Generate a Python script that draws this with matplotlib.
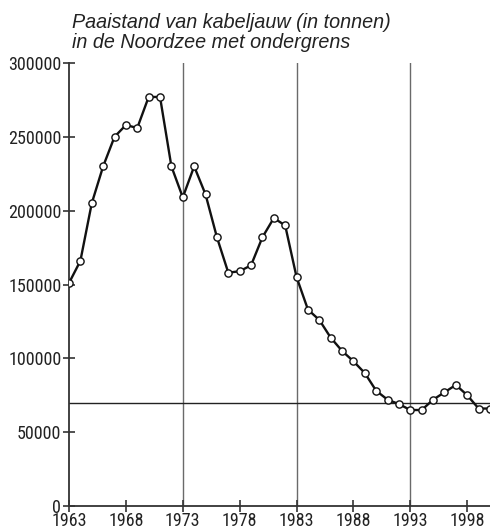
import matplotlib
matplotlib.use("Agg")
import matplotlib.pyplot as plt
from matplotlib import font_manager as fm

years = list(range(1963, 2001))
biomass = [151000, 166000, 205000, 230000, 250000, 258000, 256000, 277000, 277000, 230000,
           209000, 230000, 211000, 182000, 158000, 159000, 163000, 182000, 195000, 190000,
           155000, 133000, 126000, 114000, 105000, 98000, 90000, 78000, 72000, 69000,
           65000, 65000, 72000, 77000, 82000, 75000, 66000, 66000]
limit = 70000
marker_years = [1973, 1983, 1993]
xticks = [1963, 1968, 1973, 1978, 1983, 1988, 1993, 1998]
yticks = [0, 50000, 100000, 150000, 200000, 250000, 300000]
title_lines = ["Paaistand van kabeljauw (in tonnen)", "in de Noordzee met ondergrens"]

# pick a condensed face for the tick labels
fonts = fm.fontManager.ttflist
names = {f.name for f in fonts}
tick_font = dict(family="Liberation Sans", size=10.5)
if "Liberation Sans Narrow" in names:
    tick_font = dict(family="Liberation Sans Narrow", size=13)
elif "Roboto Condensed" in names:
    tick_font = dict(family="Roboto Condensed", size=13)
elif any(f.name == "DejaVu Sans" and f.stretch == "condensed" for f in fonts):
    tick_font = dict(family="DejaVu Sans", stretch="condensed", size=11.5)

fig = plt.figure(figsize=(4.9, 5.31), dpi=100)
ax = fig.add_axes([69/490, (531-506)/531, (490-69)/490, (506-63)/531])
ax.set_xlim(1963, 2000)
ax.set_ylim(0, 300000)

for yr in marker_years:
    ax.axvline(yr, color="#6a6a6a", lw=1.0, zorder=1)
ax.axhline(limit, color="#222222", lw=1.0, zorder=1)

ax.plot(years, biomass, color="#111111", lw=1.7, marker="o", ms=5.2,
        mfc="white", mec="#111111", mew=1.0, zorder=3, clip_on=True)

for s in ["top", "right"]:
    ax.spines[s].set_visible(False)
for s in ["left", "bottom"]:
    ax.spines[s].set_color("#333333")
    ax.spines[s].set_linewidth(1.3)

ax.set_xticks(xticks)
ax.set_yticks(yticks)
ax.set_xticklabels([str(t) for t in xticks])
ax.set_yticklabels([str(t) for t in yticks])
ax.tick_params(axis="both", direction="inout", length=9, width=1.2, color="#333333",
               labelcolor="#222222")
ax.tick_params(axis="y", pad=1)
ax.tick_params(axis="x", pad=0)
for lab in ax.get_xticklabels() + ax.get_yticklabels():
    lab.set_fontproperties(fm.FontProperties(**tick_font))

fig.text(72/490, 1 - 22/531, title_lines[0], fontsize=14.2, style="italic",
         family="Liberation Sans", color="#222222", va="center", ha="left")
fig.text(72/490, 1 - 43/531, title_lines[1], fontsize=14.2, style="italic",
         family="Liberation Sans", color="#222222", va="center", ha="left")

fig.savefig("out.png", dpi=100)
